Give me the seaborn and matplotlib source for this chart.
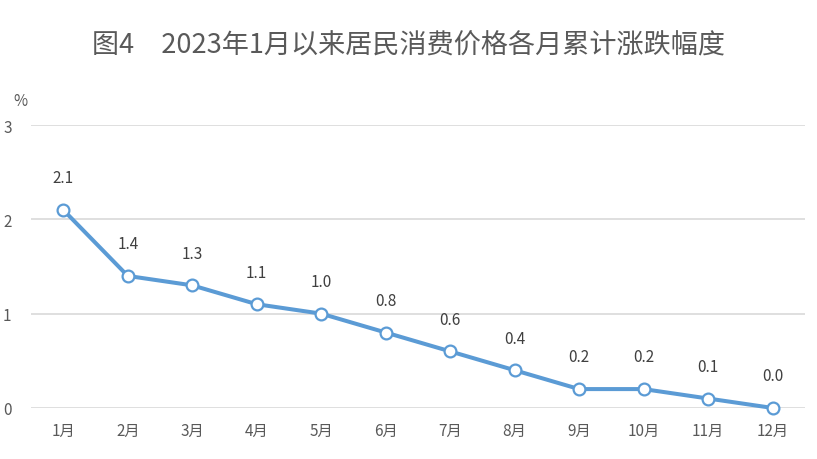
import matplotlib
matplotlib.use("Agg")
import matplotlib.pyplot as plt
import seaborn as sns
import pandas as pd

# data
months = ["1月", "2月", "3月", "4月", "5月", "6月", "7月", "8月", "9月", "10月", "11月", "12月"]
values = [2.1, 1.4, 1.3, 1.1, 1.0, 0.8, 0.6, 0.4, 0.2, 0.2, 0.1, 0.0]
yticks = [0, 1, 2, 3]

sns.set_style("white")
plt.rcParams['font.family'] = ['Noto Sans CJK SC', 'DejaVu Sans']

df = pd.DataFrame({"month": months, "value": values})
df["pos"] = range(len(months))

fig = plt.figure(figsize=(8.17, 4.6), dpi=100)
ax = fig.add_axes([0.038, 0.111, 0.947, 0.615])

line_col = "#5B9BD5"
text_col = "#595959"

sns.lineplot(data=df, x="pos", y="value", ax=ax, color=line_col, linewidth=2.9,
             marker="o", markersize=8.5, markerfacecolor="white",
             markeredgecolor=line_col, markeredgewidth=1.6, zorder=3, clip_on=False)

for x, v in zip(df["pos"], df["value"]):
    ax.annotate(f"{v:.1f}", (x, v), xytext=(0, 17), textcoords="offset points",
                ha="center", va="bottom", fontsize=11, color="#404040")

ax.set_xlim(-0.5, len(months) - 0.5)
ax.set_ylim(0, 3)
ax.set_xticks(df["pos"])
ax.set_xticklabels(months)
ax.set_yticks(yticks)
ax.yaxis.grid(True, color="#D9D9D9", linewidth=1.2)
ax.set_axisbelow(True)
for s in ax.spines.values():
    s.set_visible(False)
ax.tick_params(axis="both", length=0, labelsize=11, colors=text_col)
ax.tick_params(axis="x", pad=10)
ax.tick_params(axis="y", pad=14)
ax.set_xlabel("")
ax.set_ylabel("")

fig.text(0.016, 0.78, "%", fontsize=11, color=text_col, ha="left", va="center")
fig.text(0.5, 0.9, "图4　2023年1月以来居民消费价格各月累计涨跌幅度",
         fontsize=19.5, color=text_col, ha="center", va="center")

fig.savefig("out.png", dpi=100)
